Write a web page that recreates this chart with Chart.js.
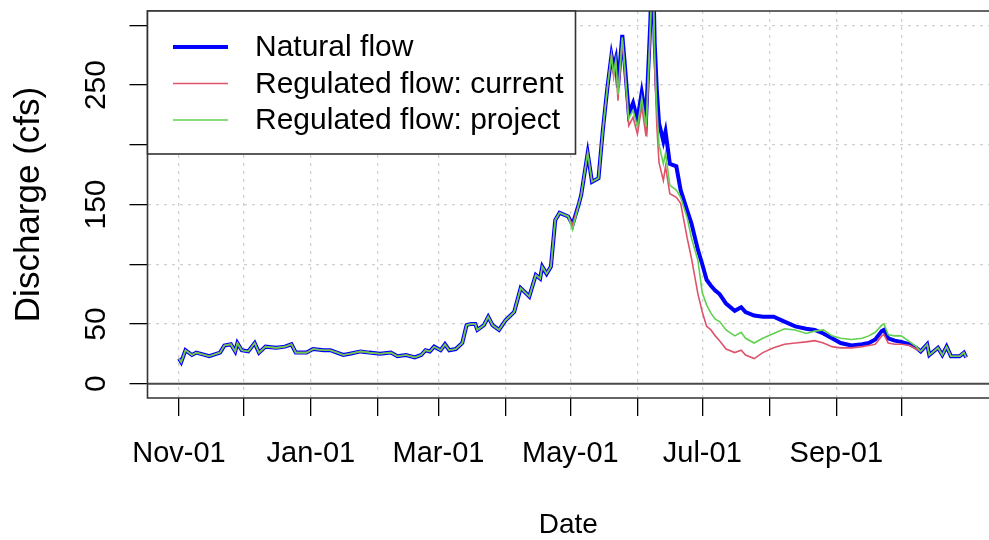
<!DOCTYPE html>
<html>
<head>
    <title>Discharge</title>
    <script src="https://cdn.jsdelivr.net/npm/chart.js@4.4.1/dist/chart.umd.min.js"></script>
    <style>
        html, body { margin: 0; padding: 0; background: #fff; }
        #wrap { width: 989px; height: 540px; }
    </style>
</head>
<body>
<div id="wrap"><canvas id="flowChart" width="989" height="540"></canvas></div>
<script>
    // days counted from Nov-01 (water year)
    const days = [
        0, 1, 3, 6, 8, 14, 19, 21, 24, 26,
        27, 29, 32, 35, 37, 40, 45, 49, 52, 54,
        59, 62, 67, 70, 73, 76, 79, 84, 88, 93,
        98, 101, 105, 109, 112, 114, 116, 118, 121, 123,
        125, 128, 131, 133, 135, 137, 138, 141, 143, 145,
        148, 151, 155, 158, 162, 165, 167, 168, 170, 172,
        174, 176, 180, 182, 185, 186, 189, 191, 194, 196,
        198, 200, 201, 202, 203, 205, 206, 208, 210, 212,
        214, 216, 218, 219, 220, 221, 222, 224, 225, 227,
        230, 232, 235, 237, 240, 242, 244, 246, 248, 250,
        253, 257, 260, 262, 266, 270, 275, 280, 285, 290,
        294, 298, 302, 306, 311, 316, 319, 322, 325, 326,
        328, 331, 334, 338, 341, 343, 346, 347, 351, 353,
        355, 357, 361, 363, 364
    ];
    const natural = [
        21, 18, 28, 24, 26, 23, 26, 32, 33, 27,
        34, 28, 27, 34, 26, 31, 30, 31, 33, 26,
        26, 29, 28, 28, 26, 24, 25, 27, 26, 25,
        26, 23, 24, 22, 24, 28, 27, 31, 28, 33,
        28, 29, 34, 49, 50, 50, 45, 49, 56, 49,
        45, 53, 60, 80, 73, 91, 88, 98, 92, 98,
        137, 143, 140, 133, 151, 158, 193, 169, 172, 212,
        246, 275, 265, 272, 248, 292, 271, 226, 235, 221,
        244, 222, 304, 370, 285, 245, 218, 203, 211, 184,
        182, 162, 145, 134, 112, 100, 87, 82, 78, 75,
        67, 61, 64, 60, 57, 56, 56, 52, 48, 46,
        45, 42, 38, 34, 32, 33, 34, 37, 44, 45,
        38, 36, 35, 33, 30, 27, 33, 24, 30, 24,
        31, 23, 23, 26, 22
    ];
    const current = [
        21, 18, 28, 24, 26, 23, 26, 32, 33, 27,
        34, 28, 27, 34, 26, 31, 30, 31, 33, 26,
        26, 29, 28, 28, 26, 24, 25, 27, 26, 25,
        26, 23, 24, 22, 24, 28, 27, 31, 28, 33,
        28, 29, 34, 49, 50, 50, 45, 49, 56, 49,
        45, 53, 60, 80, 73, 91, 88, 98, 92, 98,
        137, 143, 140, 133, 151, 158, 193, 169, 172, 212,
        246, 275, 257, 270, 237, 288, 265, 216, 223, 209,
        232, 207, 295, 355, 265, 215, 185, 170, 182, 159,
        156, 151, 122, 105, 75, 60, 48, 45, 40, 36,
        29, 26, 28, 24, 21, 26, 30, 33, 34, 35,
        36, 34, 31, 30, 30, 31, 32, 33, 40, 41,
        34, 33, 33, 32, 29, 27, 33, 24, 30, 24,
        31, 23, 23, 26, 22
    ];
    const project = [
        21, 18, 28, 24, 26, 23, 26, 32, 33, 27,
        34, 28, 27, 34, 26, 31, 30, 31, 33, 26,
        26, 29, 28, 28, 26, 24, 25, 27, 26, 25,
        26, 23, 24, 22, 24, 28, 27, 31, 28, 33,
        28, 29, 34, 49, 50, 50, 45, 49, 56, 49,
        45, 53, 60, 80, 73, 91, 88, 98, 92, 98,
        137, 143, 140, 129, 151, 158, 193, 169, 172, 212,
        246, 275, 259, 271, 242, 290, 268, 222, 229, 215,
        239, 215, 300, 362, 275, 230, 200, 184, 193, 166,
        162, 156, 139, 122, 103, 76, 66, 59, 54, 52,
        45, 40, 43, 38, 34, 38, 42, 46, 45, 42,
        44, 45, 40, 38, 37, 38, 40, 43, 49, 50,
        41, 40, 40, 35, 31, 27, 33, 24, 30, 24,
        31, 23, 23, 26, 22
    ];

    const monthTicks = [0, 30, 61, 92, 120, 151, 181, 212, 242, 273, 304, 334];
    const monthLabels = ['Nov-01', '', 'Jan-01', '', 'Mar-01', '', 'May-01', '', 'Jul-01', '', 'Sep-01', ''];
    const yTicks = [0, 50, 100, 150, 200, 250, 300];
    const yLabels = ['0', '50', '', '150', '', '250', ''];

    const seriesNames = ['Natural flow', 'Regulated flow: current', 'Regulated flow: project'];
    const seriesColors = ['#0000FF', '#DF536B', '#61D04F'];
    const seriesWidths = [4, 1.6, 1.6];

    const FONT = '"Liberation Sans", Arial, sans-serif';
    Chart.defaults.font.family = FONT;
    Chart.defaults.color = '#000';

    function pts(values) {
        return days.map((d, i) => ({ x: d, y: values[i] }));
    }

    // box, zero line and legend in base-graphics style
    const frame = {
        id: 'frame',
        beforeDatasetsDraw(chart) {
            const { ctx, chartArea: a, scales } = chart;
            const y0 = scales.y.getPixelForValue(0);
            ctx.save();
            ctx.strokeStyle = '#4a4a4a';
            ctx.lineWidth = 2;
            ctx.beginPath();
            ctx.moveTo(a.left, y0);
            ctx.lineTo(a.right, y0);
            ctx.stroke();
            ctx.restore();
        },
        afterDraw(chart) {
            const { ctx, chartArea: a } = chart;
            ctx.save();
            ctx.strokeStyle = '#333';
            ctx.lineWidth = 1.6;
            ctx.beginPath();
            ctx.moveTo(a.right + 2, a.top);
            ctx.lineTo(a.left, a.top);
            ctx.lineTo(a.left, a.bottom);
            ctx.lineTo(a.right + 2, a.bottom);
            ctx.stroke();

            // legend
            const lx = a.left, ly = a.top, lw = 428, lh = 143;
            ctx.fillStyle = '#fff';
            ctx.fillRect(lx, ly, lw, lh);
            ctx.strokeRect(lx, ly, lw, lh);
            ctx.font = '30px ' + FONT;
            ctx.textBaseline = 'middle';
            ctx.fillStyle = '#000';
            seriesNames.forEach((name, i) => {
                const yy = 47 + i * 36.5;
                ctx.strokeStyle = seriesColors[i];
                ctx.lineWidth = seriesWidths[i];
                ctx.beginPath();
                ctx.moveTo(173, yy);
                ctx.lineTo(228, yy);
                ctx.stroke();
                ctx.fillText(name, 255, yy + 1);
            });
            ctx.restore();
        }
    };

    new Chart(document.getElementById('flowChart').getContext('2d'), {
        type: 'line',
        data: {
            datasets: seriesNames.map((name, i) => ({
                label: name,
                data: pts([natural, current, project][i]),
                borderColor: seriesColors[i],
                borderWidth: seriesWidths[i],
                pointRadius: 0,
                tension: 0,
                fill: false,
                order: 3 - i
            }))
        },
        options: {
            responsive: false,
            animation: false,
            layout: { padding: { top: 11, right: 0, bottom: 0, left: 0 } },
            plugins: {
                legend: { display: false },
                tooltip: { enabled: false }
            },
            scales: {
                x: {
                    type: 'linear',
                    min: -14.57,
                    max: 374.6,
                    afterFit: (s) => { s.height = 142; s.paddingLeft = 0; s.paddingRight = 0; },
                    afterBuildTicks: (s) => { s.ticks = monthTicks.map(v => ({ value: v })); },
                    border: { display: false, dash: [3, 5] },
                    grid: {
                        color: '#d0d0d0',
                        lineWidth: 1.3,
                        tickLength: 18,
                        tickColor: '#000',
                        tickWidth: 1.3,
                        tickBorderDash: []
                    },
                    ticks: {
                        autoSkip: false,
                        maxRotation: 0,
                        minRotation: 0,
                        padding: 21,
                        font: { size: 29 },
                        callback: (v) => monthLabels[monthTicks.indexOf(v)] || ''
                    },
                    title: {
                        display: true,
                        text: 'Date',
                        font: { size: 28, lineHeight: 1 },
                        padding: { top: 0, bottom: 1 }
                    }
                },
                y: {
                    min: -12,
                    max: 312,
                    afterFit: (s) => { s.width = 147.5; s.paddingTop = 0; s.paddingBottom = 0; },
                    afterBuildTicks: (s) => { s.ticks = yTicks.map(v => ({ value: v })); },
                    border: { display: false, dash: [3, 5] },
                    grid: {
                        color: (c) => (c.tick && c.tick.value === 0) ? 'rgba(0,0,0,0)' : '#d0d0d0',
                        lineWidth: 1.3,
                        tickLength: 18,
                        tickColor: '#000',
                        tickWidth: 1.3,
                        tickBorderDash: []
                    },
                    ticks: {
                        autoSkip: false,
                        minRotation: 90,
                        maxRotation: 90,
                        crossAlign: 'center',
                        padding: 8,
                        font: { size: 30 },
                        callback: (v) => yLabels[yTicks.indexOf(v)] || ''
                    },
                    title: {
                        display: true,
                        text: 'Discharge (cfs)',
                        font: { size: 35, lineHeight: 1 },
                        padding: { top: 12, bottom: 0 }
                    }
                }
            }
        },
        plugins: [frame]
    });
</script>
</body>
</html>
